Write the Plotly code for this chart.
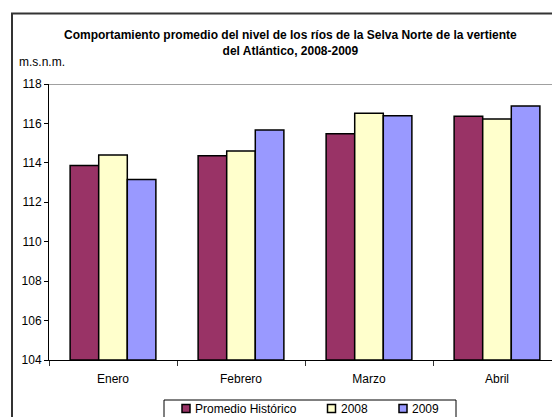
import plotly.graph_objects as go

# Monthly average river level (m.s.n.m.)
meses = ["Enero", "Febrero", "Marzo", "Abril"]
promedio_historico = [113.86, 114.36, 115.48, 116.36]
nivel_2008 = [114.40, 114.60, 116.51, 116.22]
nivel_2009 = [113.16, 115.67, 116.39, 116.88]
y_ticks = [104, 106, 108, 110, 112, 114, 116, 118]
y_floor = 104

FONT = "Liberation Sans Narrow, Arial Narrow, Liberation Sans, Arial, sans-serif"

W, H = 552, 417
L, R, T, B = 49, 0, 84, 57
plot_w = W - L - R
plot_h = H - T - B
cat_px = 128.0  # pixel width of one month slot

series = [
    ("Promedio Histórico", promedio_historico, "#993366"),
    ("2008", nivel_2008, "#FFFFCC"),
    ("2009", nivel_2009, "#9999FF"),
]

fig = go.Figure()
for name, vals, color in series:
    fig.add_trace(go.Bar(
        x=meses, y=[v - y_floor for v in vals], base=y_floor, name=name,
        marker=dict(color=color, line=dict(color="black", width=1.5)),
        showlegend=False,
    ))


def px_x(px):
    return (px - L) / plot_w


def px_y(py):
    return (H - B - py) / plot_h


fig.update_layout(
    width=W, height=H,
    margin=dict(l=L, r=R, t=T, b=B, pad=0, autoexpand=False),
    paper_bgcolor="white", plot_bgcolor="white",
    barmode="group", bargap=0.33, bargroupgap=0,
    font=dict(family=FONT, size=12, color="black"),
    showlegend=False,
    xaxis=dict(
        range=[-0.5, -0.5 + plot_w / cat_px],
        showline=True, linecolor="black", linewidth=1,
        ticks="outside", ticklen=5, tickcolor="#333333",
        tickson="boundaries", showgrid=False,
        tickfont=dict(family=FONT, size=12),
        ticklabelstandoff=8,
        fixedrange=True,
    ),
    yaxis=dict(
        range=[104, 118], tickvals=y_ticks,
        showline=True, linecolor="black", linewidth=1,
        ticks="outside", ticklen=4, tickcolor="black",
        showgrid=False, zeroline=False,
        tickfont=dict(family=FONT, size=12),
        fixedrange=True,
    ),
)

# top boundary line of the plot area at 118
fig.add_shape(type="line", xref="paper", yref="y", x0=0, x1=1.2, y0=118, y1=118,
              line=dict(color="#808080", width=1.5))
# outer chart frame
fig.add_shape(type="rect", xref="paper", yref="paper",
              x0=px_x(12), x1=1.2, y0=px_y(440), y1=px_y(13.5),
              line=dict(color="#333333", width=2), layer="below")

fig.add_annotation(
    text="<b>Comportamiento promedio del nivel de los ríos de la Selva Norte de la vertiente<br>del Atlántico, 2008-2009</b>",
    xref="paper", yref="paper", x=px_x(290), y=px_y(26),
    xanchor="center", yanchor="top", showarrow=False,
    font=dict(family=FONT, size=12), align="center",
)
fig.add_annotation(
    text="m.s.n.m.", xref="paper", yref="paper", x=px_x(17), y=px_y(62),
    xanchor="left", yanchor="middle", showarrow=False,
    font=dict(family=FONT, size=12),
)

# legend box below the axis
fig.add_shape(type="rect", xref="paper", yref="paper",
              x0=px_x(164), x1=px_x(456), y0=px_y(430), y1=px_y(400),
              line=dict(color="black", width=1), fillcolor="white")
legend_items = [(s[0], s[2], sx) for s, sx in zip(series, [182, 327.5, 399])]
for name, color, sx in legend_items:
    fig.add_shape(type="rect", xref="paper", yref="paper",
                  x0=px_x(sx), x1=px_x(sx + 8), y0=px_y(412.5), y1=px_y(404.5),
                  line=dict(color="black", width=1.5), fillcolor=color)
    fig.add_annotation(
        text=name, xref="paper", yref="paper", x=px_x(sx + 11), y=px_y(408.5),
        xanchor="left", yanchor="middle", showarrow=False,
        font=dict(family=FONT, size=12),
    )

fig.write_html("out.html")
